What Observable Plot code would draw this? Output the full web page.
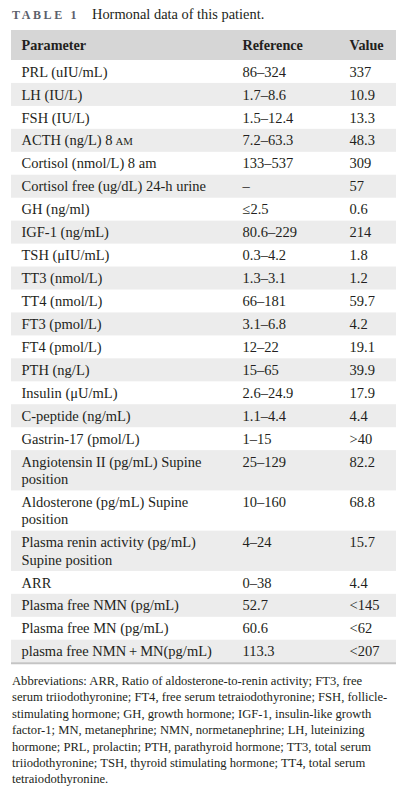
<!DOCTYPE html>
<html><head><meta charset="utf-8">
<script src="https://cdn.jsdelivr.net/npm/d3@7"></script>
<script src="https://cdn.jsdelivr.net/npm/@observablehq/plot@0.6"></script>
<style>
body{margin:0;background:#fff;font-family:"Liberation Serif",serif;color:#231f20;width:409px;overflow:hidden;}
#title{height:24px;padding-top:6px;position:relative;white-space:nowrap;}
#title .tl{position:absolute;left:12px;top:8px;font-size:12px;font-weight:bold;letter-spacing:2.6px;color:#5b606c;line-height:14px;}
#title .tt{position:absolute;left:92px;top:6px;font-size:14.4px;line-height:16px;color:#231f20;}
#chart svg{display:block;}
#caption{margin-top:8px;padding-left:12px;font-size:12.6px;line-height:16.4px;color:#231f20;}
#caption div{white-space:nowrap;}
</style></head><body>
<div id="title"><span class="tl">TABLE 1</span><span class="tt">Hormonal data of this patient.</span></div>
<div id="chart"></div>
<div id="caption"></div>
<script>
const headers = ["Parameter", "Reference", "Value"];
const parameters = [
  "PRL (uIU/mL)", "LH (IU/L)", "FSH (IU/L)", "ACTH (ng/L) 8 AM", "Cortisol (nmol/L) 8 am",
  "Cortisol free (ug/dL) 24-h urine", "GH (ng/ml)", "IGF-1 (ng/mL)", "TSH (\u03bcIU/mL)",
  "TT3 (nmol/L)", "TT4 (nmol/L)", "FT3 (pmol/L)", "FT4 (pmol/L)", "PTH (ng/L)",
  "Insulin (\u03bcU/mL)", "C-peptide (ng/mL)", "Gastrin-17 (pmol/L)",
  "Angiotensin II (pg/mL) Supine\nposition", "Aldosterone (pg/mL) Supine\nposition",
  "Plasma renin activity (pg/mL)\nSupine position", "ARR", "Plasma free NMN (pg/mL)",
  "Plasma free MN (pg/mL)", "plasma free NMN\u2009+\u2009MN(pg/mL)"
];
const references = [
  "86\u2013324", "1.7\u20138.6", "1.5\u201312.4", "7.2\u201363.3", "133\u2013537", "\u2013", "\u22642.5",
  "80.6\u2013229", "0.3\u20134.2", "1.3\u20133.1", "66\u2013181", "3.1\u20136.8", "12\u201322", "15\u201365",
  "2.6\u201324.9", "1.1\u20134.4", "1\u201315", "25\u2013129", "10\u2013160", "4\u201324", "0\u201338",
  "52.7", "60.6", "113.3"
];
const values = [
  "337", "10.9", "13.3", "48.3", "309", "57", "0.6", "214", "1.8", "1.2", "59.7", "4.2",
  "19.1", "39.9", "17.9", "4.4", ">40", "82.2", "68.8", "15.7", "4.4", "<145", "<62", "<207"
];
const captionLines = [
  "Abbreviations: ARR, Ratio of aldosterone-to-renin activity; FT3, free",
  "serum triiodothyronine; FT4, free serum tetraiodothyronine; FSH, follicle-",
  "stimulating hormone; GH, growth hormone; IGF-1, insulin-like growth",
  "factor-1; MN, metanephrine; NMN, normetanephrine; LH, luteinizing",
  "hormone; PRL, prolactin; PTH, parathyroid hormone; TT3, total serum",
  "triiodothyronine; TSH, thyroid stimulating hormone; TT4, total serum",
  "tetraiodothyronine."
];

// layout
const W = 409, L = 11, R = 396;
const colX = [21, 242, 349];
const headerH = 30, singleH = 22.95, lineH = 17.3;
let cursor = headerH;
const rows = parameters.map((p, i) => {
  const lines = p.split("\n");
  const h = singleH + (lines.length - 1) * lineH;
  const r = {i, top: cursor, bottom: cursor + h, lines, ref: references[i], val: values[i]};
  cursor += h;
  return r;
});
const H = Math.ceil(cursor + 2);

const cells = [];
rows.forEach(r => {
  const c0 = r.top + singleH / 2;
  r.lines.forEach((ln, k) => cells.push({x: colX[0], y: c0 + k * lineH, text: ln}));
  cells.push({x: colX[1], y: c0, text: r.ref});
  cells.push({x: colX[2], y: c0, text: r.val});
});
const headCells = headers.map((h, i) => ({x: colX[i], y: headerH / 2, text: h}));

const font = {fontFamily: "Liberation Serif", fontSize: 14.5, fill: "#231f20", textAnchor: "start", lineAnchor: "middle"};

const plot = Plot.plot({
  width: W, height: H, margin: 0,
  x: {type: "linear", domain: [0, W], range: [0, W], axis: null},
  y: {type: "linear", domain: [0, H], range: [0, H], axis: null},
  marks: [
    Plot.rect([{y1: 0, y2: headerH}], {x1: () => L, x2: () => R, y1: "y1", y2: "y2", fill: "#d6d6d6"}),
    Plot.rect(rows.filter(r => r.i % 2 === 1), {x1: () => L, x2: () => R, y1: "top", y2: "bottom", fill: "#ececec"}),
    Plot.ruleY([cursor], {x1: () => L, x2: () => R, stroke: "#c4c4c4", strokeWidth: 2}),
    Plot.text(headCells, {x: "x", y: "y", text: "text", ...font, fontSize: 14.2, fontWeight: "bold"}),
    Plot.text(cells, {x: "x", y: "y", text: "text", ...font})
  ]
});
document.getElementById("chart").appendChild(plot);

// small caps for "AM"
plot.querySelectorAll("text").forEach(t => {
  if (t.textContent === "ACTH (ng/L) 8 AM") {
    t.textContent = "ACTH (ng/L) 8\u2009";
    const ts = document.createElementNS("http://www.w3.org/2000/svg", "tspan");
    ts.setAttribute("font-size", "10.8");
    ts.textContent = "AM";
    t.appendChild(ts);
  }
});

const cap = document.getElementById("caption");
captionLines.forEach(l => { const d = document.createElement("div"); d.textContent = l; cap.appendChild(d); });
</script>
</body></html>
